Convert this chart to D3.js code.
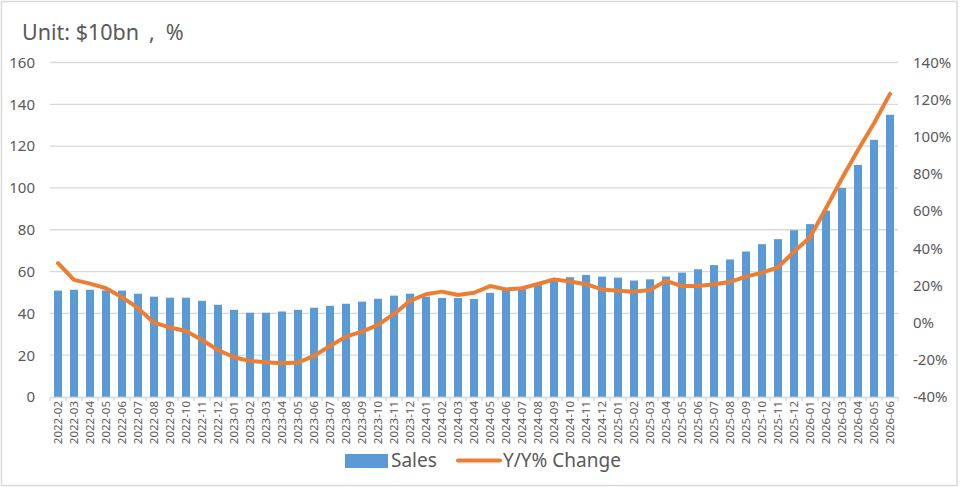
<!DOCTYPE html>
<html>
<head>
<meta charset="utf-8">
<script src="https://cdn.jsdelivr.net/npm/d3@7"></script>
<style>
  html, body { margin: 0; padding: 0; background: #fff; }
  svg { display: block; font-family: "Noto Sans", "DejaVu Sans", sans-serif; }
</style>
</head>
<body>
<svg id="chart" width="960" height="487"></svg>
<script>
const categories = [
  "2022-02","2022-03","2022-04","2022-05","2022-06","2022-07","2022-08","2022-09","2022-10","2022-11","2022-12",
  "2023-01","2023-02","2023-03","2023-04","2023-05","2023-06","2023-07","2023-08","2023-09","2023-10","2023-11","2023-12",
  "2024-01","2024-02","2024-03","2024-04","2024-05","2024-06","2024-07","2024-08","2024-09","2024-10","2024-11","2024-12",
  "2025-01","2025-02","2025-03","2025-04","2025-05","2025-06","2025-07","2025-08","2025-09","2025-10","2025-11","2025-12",
  "2026-01","2026-02","2026-03","2026-04","2026-05","2026-06"
];
const sales = [
  50.9,51.3,51.3,51.0,50.9,49.4,48.0,47.5,47.5,46.0,44.1,
  41.7,40.3,40.3,40.9,41.7,42.7,43.6,44.6,45.6,47.0,48.5,49.4,
  48.0,47.4,47.4,46.9,49.8,51.6,52.0,53.5,55.7,57.3,58.4,57.6,
  57.1,55.7,56.3,57.6,59.5,61.1,63.1,65.8,69.6,73.1,75.5,79.8,
  82.7,89.2,100.0,111.0,123.0,135.0
];
const yoy = [
  32.0,23.0,21.0,18.5,13.7,7.8,0.0,-2.6,-4.5,-9.3,-14.7,
  -18.6,-20.6,-21.3,-21.9,-21.5,-17.8,-12.6,-7.5,-4.8,-1.2,4.7,11.7,
  15.3,16.7,14.9,16.1,19.7,17.9,18.5,20.8,23.3,22.1,20.7,17.9,
  17.2,16.7,17.6,22.5,19.7,19.7,20.7,21.9,24.8,26.9,29.8,38.2,
  46.0,61.6,77.7,92.9,107.3,123.1
];
const leftTicks = [0,20,40,60,80,100,120,140,160];
const rightTicks = [-40,-20,0,20,40,60,80,100,120,140];
const titleParts = ["Unit: $10bn", ",", "%"];
const seriesNames = ["Sales", "Y/Y% Change"];

const svg = d3.select("#chart");
const plot = { left: 50, right: 898, top: 62.5, bottom: 397 };
const textColor = "#595959", gridColor = "#D9D9D9";
const barColor = "#5B9BD5", lineColor = "#ED7D31";

// outer border
svg.append("rect").attr("x", 1.5).attr("y", 1.5).attr("width", 955.5).attr("height", 484)
  .attr("fill", "#fff").attr("stroke", "#D9D9D9").attr("stroke-width", 1.5);

const x = d3.scaleBand().domain(categories).range([plot.left, plot.right]).paddingInner(0.5).paddingOuter(0.25);
const yL = d3.scaleLinear().domain([0, 160]).range([plot.bottom, plot.top]);
const yR = d3.scaleLinear().domain([-40, 140]).range([plot.bottom, plot.top]);

// gridlines
svg.append("g").selectAll("line").data(leftTicks.filter(d => d > 0)).join("line")
  .attr("x1", plot.left).attr("x2", plot.right)
  .attr("y1", d => yL(d)).attr("y2", d => yL(d))
  .attr("stroke", gridColor).attr("stroke-width", 1.3);

// left axis labels
const gL = svg.append("g").attr("transform", `translate(${plot.left},0)`)
  .call(d3.axisLeft(yL).tickValues(leftTicks).tickSize(0).tickPadding(15));
gL.select(".domain").remove();
gL.selectAll("text").attr("fill", textColor).style("font-size", "15px").style("font-family", "'Noto Sans', sans-serif");

// right axis labels
const gR = svg.append("g").attr("transform", `translate(${plot.right},0)`)
  .call(d3.axisRight(yR).tickValues(rightTicks).tickSize(0).tickPadding(15).tickFormat(d => d + "%"));
gR.select(".domain").remove();
gR.selectAll("text").attr("fill", textColor).style("font-size", "15px").style("font-family", "'Noto Sans', sans-serif");

// bars
svg.append("g").selectAll("rect").data(categories).join("rect")
  .attr("x", d => x(d))
  .attr("width", x.bandwidth())
  .attr("y", (d, i) => yL(sales[i]))
  .attr("height", (d, i) => yL(0) - yL(sales[i]))
  .attr("fill", barColor);

// x axis
const step = x.step();
const gX = svg.append("g").attr("transform", `translate(0,${plot.bottom})`)
  .call(d3.axisBottom(x).tickSize(0).tickPadding(4));
gX.select(".domain").attr("stroke", gridColor).attr("stroke-width", 1.3);
gX.selectAll("text")
  .attr("fill", textColor)
  .style("font-size", "11.5px").style("font-family", "'Noto Sans', sans-serif")
  .attr("transform", "rotate(-90)")
  .attr("text-anchor", "end")
  .attr("x", -4).attr("y", 0).attr("dy", "0.35em");
// category boundary ticks
svg.append("g").selectAll("line").data(d3.range(categories.length + 1)).join("line")
  .attr("x1", i => plot.left + i * step).attr("x2", i => plot.left + i * step)
  .attr("y1", plot.bottom).attr("y2", plot.bottom + 4)
  .attr("stroke", gridColor).attr("stroke-width", 1.3);

// line
const line = d3.line()
  .x((d, i) => x(categories[i]) + x.bandwidth() / 2)
  .y(d => yR(d));
svg.append("path").datum(yoy)
  .attr("d", line)
  .attr("fill", "none")
  .attr("stroke", lineColor)
  .attr("stroke-width", 4)
  .attr("stroke-linejoin", "round")
  .attr("stroke-linecap", "round");

// title
const title = svg.append("text").attr("x", 22).attr("y", 40)
  .attr("fill", textColor).style("font-size", "21.5px");
title.append("tspan").text(titleParts[0]);
title.append("tspan").attr("dx", 10).text(titleParts[1]);
title.append("tspan").attr("dx", 11).text(titleParts[2]);

// legend
const lg = svg.append("g");
lg.append("rect").attr("x", 345).attr("y", 454).attr("width", 43).attr("height", 14).attr("fill", barColor);
lg.append("text").attr("x", 391).attr("y", 467).attr("fill", textColor).style("font-size", "19px").text(seriesNames[0]);
lg.append("line").attr("x1", 458).attr("x2", 500).attr("y1", 460.5).attr("y2", 460.5)
  .attr("stroke", lineColor).attr("stroke-width", 4).attr("stroke-linecap", "round");
lg.append("text").attr("x", 503).attr("y", 467).attr("fill", textColor).style("font-size", "19px").text(seriesNames[1]);
</script>
</body>
</html>
